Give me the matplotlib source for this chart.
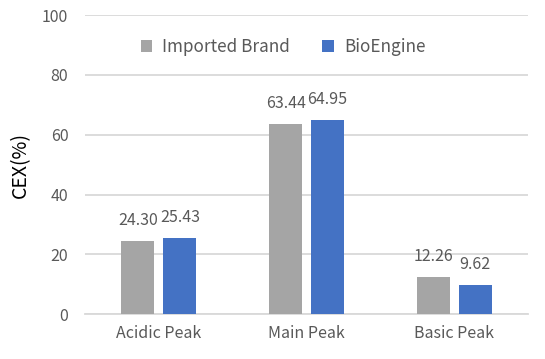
import numpy as np
import matplotlib
matplotlib.use('Agg')
import matplotlib.pyplot as plt

plt.rcParams['font.family'] = ['Noto Sans CJK SC', 'DejaVu Sans']

# 数据
categories = ['Acidic Peak', 'Main Peak', 'Basic Peak']
series_names = ['Imported Brand', 'BioEngine']
imported = [24.30, 63.44, 12.26]
bioengine = [25.43, 64.95, 9.62]
colors = ['#A5A5A5', '#4472C4']

fig = plt.figure(figsize=(5.45, 3.59), dpi=100)
ax = fig.add_axes([0.156, 0.125, 0.813, 0.833])

x = np.arange(len(categories))
w = 0.223
off = 0.142
b1 = ax.bar(x - off, imported, w, color=colors[0], label=series_names[0], zorder=3)
b2 = ax.bar(x + off, bioengine, w, color=colors[1], label=series_names[1], zorder=3)

# 柱顶数值标签
for bars, vals in [(b1, imported), (b2, bioengine)]:
    for b, v in zip(bars, vals):
        ax.text(b.get_x() + b.get_width() / 2, v + 4, f'{v:.2f}', ha='center', va='bottom',
                fontsize=11.5, color='#595959')

ax.set_xlim(-0.5, 2.5)
ax.set_ylim(0, 100)
ax.set_yticks(np.arange(0, 101, 20))
ax.set_xticks(x)
ax.set_xticklabels(categories)
ax.tick_params(axis='both', length=0, labelsize=11.5, colors='#595959')
ax.tick_params(axis='y', pad=12)
ax.tick_params(axis='x', pad=8)
ax.grid(axis='y', color='#D9D9D9', linewidth=1.3, zorder=0)
for s in ['left', 'right', 'top']:
    ax.spines[s].set_visible(False)
ax.spines['bottom'].set_color('#D9D9D9')
ax.spines['bottom'].set_linewidth(1.3)

ax.set_ylabel('CEX(%)', fontsize=14, color='black', labelpad=8)

ax.legend(loc='upper center', bbox_to_anchor=(0.447, 0.975), ncol=2, frameon=False,
          fontsize=12.3, labelcolor='#595959', handlelength=0.65, handleheight=0.65,
          columnspacing=1.9, handletextpad=0.6)

fig.savefig('out.png', dpi=100)
